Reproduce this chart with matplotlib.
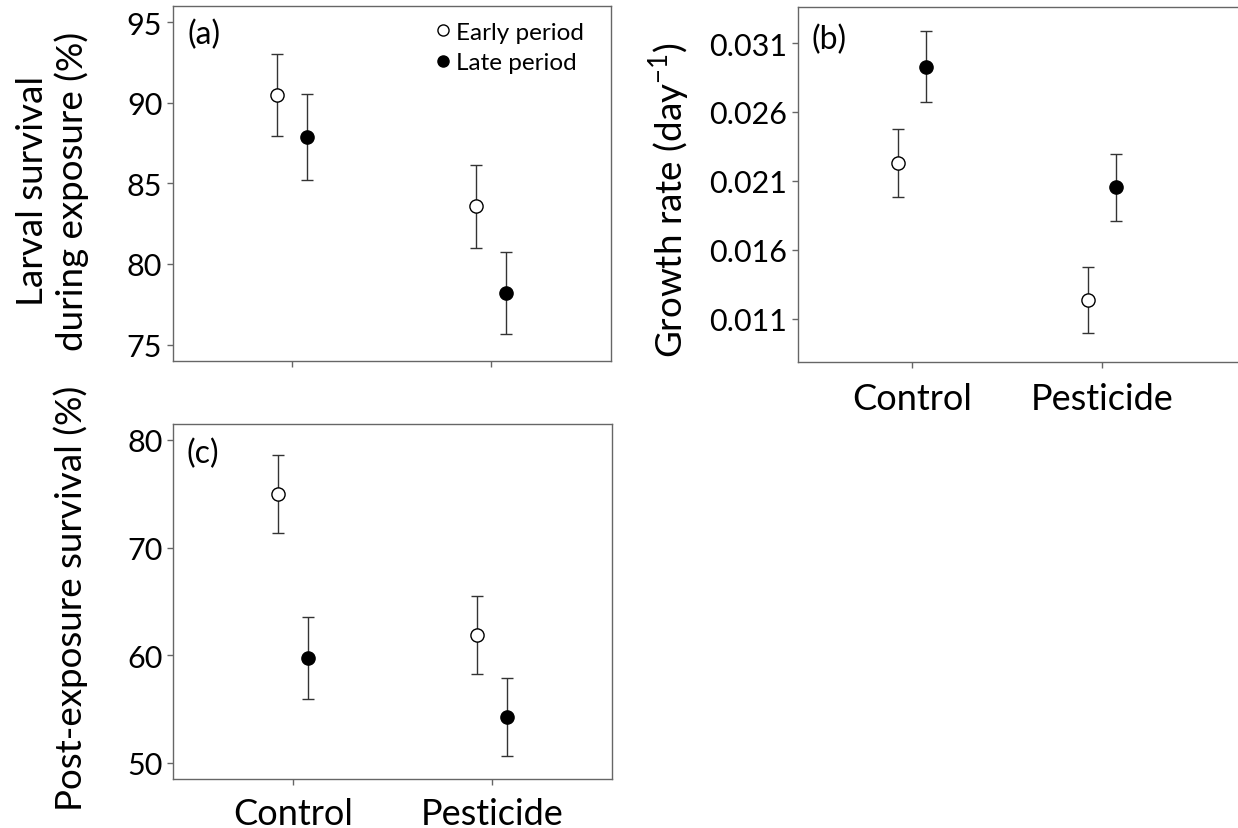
import matplotlib
matplotlib.use('Agg')
import matplotlib.pyplot as plt
from matplotlib.lines import Line2D
import numpy as np

plt.rcParams['font.family'] = ['Lato', 'DejaVu Sans']

# data
groups = ['Control', 'Pesticide']
periods = ['Early period', 'Late period']

surv_early = [90.47, 83.59]
surv_early_se = [2.55, 2.57]
surv_late = [87.89, 78.21]
surv_late_se = [2.67, 2.56]

growth_early = [0.02231, 0.01236]
growth_early_se = [0.00249, 0.00241]
growth_late = [0.02930, 0.02054]
growth_late_se = [0.00260, 0.00243]

post_early = [74.98, 61.89]
post_early_se = [3.61, 3.61]
post_late = [59.72, 54.24]
post_late_se = [3.79, 3.63]

x = np.array([1, 2])
dx = 0.075
spine_col = '#666666'
err_col = '#333333'


def panel(ax, early, early_se, late, late_se):
    ax.errorbar(x - dx, early, yerr=early_se, fmt='o', ms=9.5, mfc='white',
                mec='black', mew=1.0, ecolor=err_col, elinewidth=1.0,
                capsize=4, capthick=1.0, zorder=3)
    ax.errorbar(x + dx, late, yerr=late_se, fmt='o', ms=9.5, mfc='black',
                mec='black', mew=1.0, ecolor=err_col, elinewidth=1.0,
                capsize=4, capthick=1.0, zorder=3)
    for s in ax.spines.values():
        s.set_color(spine_col)
        s.set_linewidth(1.0)
    ax.tick_params(colors=spine_col, length=4, width=1.0, labelcolor='black',
                   labelsize=22)
    ax.set_xticks(x)


fig = plt.figure(figsize=(12.38, 8.29), dpi=100)

# (a)
ax_a = fig.add_axes([0.1395, 0.5637, 0.354, 0.4279])
panel(ax_a, surv_early, surv_early_se, surv_late, surv_late_se)
ax_a.set_xlim(0.4, 2.6)
ax_a.set_ylim(74, 96)
ax_a.set_yticks([75, 80, 85, 90, 95])
ax_a.set_xticklabels([])
ax_a.set_ylabel('Larval survival\nduring exposure (%)', fontsize=26.5,
                linespacing=1.2)
ax_a.yaxis.set_label_coords(-0.19, 0.48)
ax_a.text(0.033, 0.965, '(a)', transform=ax_a.transAxes, fontsize=23,
          va='top', ha='left')
handles = [Line2D([], [], ls='none', marker='o', ms=8, mfc='white', mec='black'),
           Line2D([], [], ls='none', marker='o', ms=8, mfc='black', mec='black')]
ax_a.legend(handles, periods, loc='upper right', bbox_to_anchor=(0.966, 0.99),
            frameon=False, fontsize=17.5, handletextpad=0.05, handlelength=1.0,
            borderaxespad=0.2, labelspacing=0.4, borderpad=0.3)

# (b)
ax_b = fig.add_axes([0.6443, 0.5618, 0.3605, 0.4282])
panel(ax_b, growth_early, growth_early_se, growth_late, growth_late_se)
ax_b.set_xlim(0.4, 2.745)
ax_b.set_ylim(0.00783, 0.0336)
ax_b.set_yticks([0.011, 0.016, 0.021, 0.026, 0.031])
ax_b.set_yticklabels(['0.011', '0.016', '0.021', '0.026', '0.031'])
ax_b.set_xticklabels(groups, fontsize=26)
ax_b.tick_params(axis='x', pad=10)
ax_b.set_ylabel('Growth rate (day$^{\\mathregular{-1}}$)', fontsize=26.5)
ax_b.yaxis.set_label_coords(-0.2346, 0.46)
ax_b.text(0.032, 0.955, '(b)', transform=ax_b.transAxes, fontsize=23,
          va='top', ha='left')

# (c)
ax_c = fig.add_axes([0.14, 0.0591, 0.354, 0.4286])
panel(ax_c, post_early, post_early_se, post_late, post_late_se)
ax_c.set_xlim(0.4, 2.6)
ax_c.set_ylim(48.5, 81.5)
ax_c.set_yticks([50, 60, 70, 80])
ax_c.set_xticklabels(groups, fontsize=26)
ax_c.tick_params(axis='x', pad=9)
ax_c.set_ylabel('Post-exposure survival (%)', fontsize=26.5)
ax_c.yaxis.set_label_coords(-0.1946, 0.51)
ax_c.text(0.031, 0.96, '(c)', transform=ax_c.transAxes, fontsize=23,
          va='top', ha='left')

fig.savefig('out.png', dpi=100)
